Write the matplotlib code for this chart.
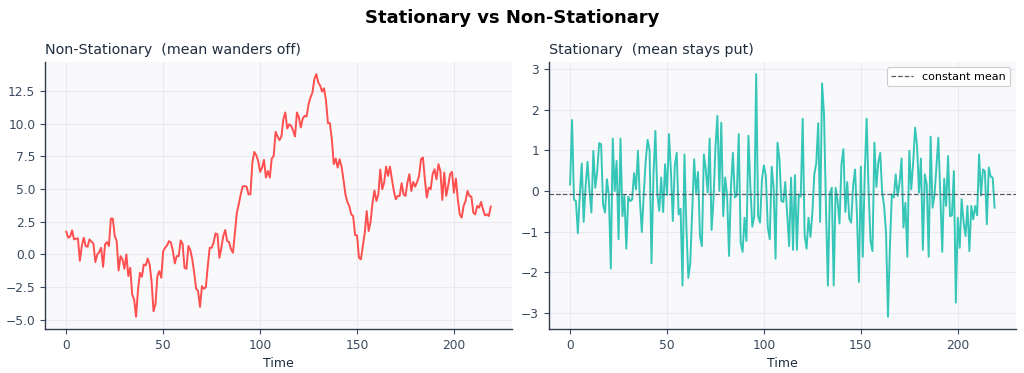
import numpy as np
import matplotlib
matplotlib.use("Agg")
import matplotlib.pyplot as plt

# ---- data ----
non_stationary = [
    1.74, 1.28, 1.36, 1.84, 1.15, 1.20, 1.23, -0.49, 0.64, 1.28,
    0.64, 0.59, 1.15, 0.97, 0.84, -0.59, 0.00, 0.18, 0.51, -0.95,
    0.77, 0.95, 0.64, 2.74, 2.74, 1.41, 1.02, -1.23, -0.13, -0.38,
    -1.10, 0.00, -1.66, -1.02, -3.07, -3.45, -4.78, -2.69, -1.41, -1.71,
    -0.77, -0.84, -0.31, -0.77, -2.05, -4.35, -3.84, -1.66, -1.28, -1.79,
    0.26, 0.51, 0.69, 1.02, 0.90, 0.26, -0.69, -0.13, -0.13, 1.07,
    0.82, -1.02, -1.10, 0.64, 0.33, -0.38, -1.41, -2.63, -2.81, -4.02,
    -2.43, -2.63, -2.51, -0.90, 0.51, 0.51, 0.90, 1.61, 1.53, -0.26,
    0.51, 1.41, 1.87, 1.02, 0.95, 0.38, 0.13, 1.66, 3.20, 3.84,
    4.60, 5.19, 5.24, 5.19, 4.60, 4.60, 7.03, 7.85, 7.60, 7.16,
    6.32, 6.65, 7.24, 5.88, 6.39, 5.88, 7.34, 7.54, 9.39, 9.03,
    8.75, 9.03, 10.36, 10.87, 9.64, 9.97, 9.85, 9.50, 9.03, 10.87,
    10.49, 9.72, 10.41, 10.61, 10.56, 11.51, 12.02, 12.40, 13.43, 13.81,
    13.17, 12.92, 12.46, 12.72, 11.76, 10.05, 10.05, 8.82, 6.91, 7.34,
    6.65, 7.29, 6.73, 5.75, 4.60, 4.02, 3.71, 3.07, 2.94, 1.48,
    1.46, -0.26, -0.38, 0.64, 1.66, 3.32, 1.79, 2.50, 3.96, 4.90,
    4.09, 4.60, 6.50, 4.99, 5.50, 6.73, 6.01, 6.73, 5.75, 4.86,
    4.22, 4.48, 4.48, 5.45, 4.60, 4.48, 5.50, 6.14, 4.86, 5.55,
    5.19, 5.55, 6.01, 7.29, 7.42, 5.75, 4.35, 5.12, 4.99, 6.14,
    6.52, 5.75, 6.91, 6.39, 4.17, 6.27, 4.48, 5.24, 6.14, 6.32,
    4.73, 5.81, 4.22, 3.07, 2.81, 3.71, 4.09, 4.86, 4.48, 4.42,
    3.20, 3.07, 3.71, 3.58, 4.02, 3.45, 2.99, 3.07, 2.94, 3.66,
]

stationary = [
    0.16, 1.75, -0.21, -0.25, -1.04, -0.10, 0.68, -0.76, 0.12, 0.72,
    0.00, -0.53, 0.99, 0.08, 0.49, 1.18, 1.15, -0.33, -0.53, 0.29,
    -0.12, -1.91, 1.29, 0.00, 0.74, -1.19, 1.29, -0.62, -0.12, -1.42,
    -0.14, -0.25, -0.21, 0.44, 0.04, 0.99, -0.21, -1.01, -0.08, 0.74,
    1.26, 1.00, -1.78, 0.37, 1.48, -0.08, -0.49, 0.33, -0.52, 0.66,
    -0.10, 1.40, 0.50, -0.74, 0.62, 0.94, -0.58, -0.44, -2.33, 0.90,
    -0.90, -2.14, -1.77, -0.50, 0.78, -0.05, 0.47, -1.11, -1.36, 0.90,
    0.53, -0.04, 1.29, -0.96, -0.20, 1.09, 1.85, 0.00, 1.68, -0.62,
    0.33, -0.10, -1.60, 0.10, 0.94, -0.16, -0.11, 1.40, -1.27, -1.50,
    -0.66, -1.23, 1.36, 0.10, -0.88, -0.62, 2.88, -0.62, -0.78, 0.29,
    0.63, 0.37, -0.90, -1.19, 0.60, 0.08, -1.67, 1.19, 0.78, -0.25,
    -0.27, 0.22, -0.58, -1.36, 0.33, -1.45, 0.39, -1.45, -0.08, -0.14,
    1.78, -1.09, -1.42, -0.66, -1.13, -0.53, 0.41, 0.68, 1.67, -0.76,
    2.65, 1.89, -0.40, -2.33, -0.08, 0.08, -2.33, 0.08, -0.25, -0.80,
    0.66, 1.03, -0.52, 0.22, -0.68, -0.78, 0.12, 0.53, -0.60, -2.24,
    0.60, -1.62, 0.40, 1.78, 0.00, -1.23, -1.48, 1.19, 0.10, 0.70,
    0.94, -0.04, -0.37, -1.03, -3.10, -1.36, -0.08, -0.16, 0.41, -0.12,
    0.21, 0.80, -0.90, -0.29, -1.62, 0.99, 0.04, 0.70, 1.56, 1.11,
    -0.04, 0.80, -1.45, 0.41, 0.16, -1.62, 1.34, -0.41, -0.10, 0.60,
    1.31, -0.10, -1.50, 0.30, -0.37, 0.86, -0.62, -0.60, 0.49, -2.75,
    -0.66, -1.40, -0.20, -0.76, -1.11, -0.37, -1.48, -0.37, -0.70, -0.37,
    -0.60, 0.90, -0.11, 0.53, 0.49, -0.82, 0.58, 0.35, 0.33, -0.41,
]

constant_mean = -0.08

suptitle = "Stationary vs Non-Stationary"
title_left = "Non-Stationary  (mean wanders off)"
title_right = "Stationary  (mean stays put)"
xlabel = "Time"
legend_label = "constant mean"

# ---- styling ----
RED = "#ff4f4f"
TEAL = "#36c6b8"
SPINE = "#2e3b4e"
TEXT = "#1f2d3d"
TICK = "#3a4a5e"
FACE = "#f9f9fc"
GRID = "#e9e9ef"

plt.rcParams["font.family"] = ["DejaVu Sans"]

fig, axes = plt.subplots(1, 2, figsize=(10.24, 3.73), dpi=100)
fig.subplots_adjust(left=0.044, right=0.992, bottom=0.118, top=0.834, wspace=0.079)

t1 = np.arange(len(non_stationary))
t2 = np.arange(len(stationary))

ax = axes[0]
ax.plot(t1, non_stationary, color=RED, lw=1.4)
ax.set_title(title_left, loc="left", fontsize=10.3, color=TEXT)

ax = axes[1]
ax.plot(t2, stationary, color=TEAL, lw=1.4)
ax.axhline(constant_mean, color="#555a60", ls="--", lw=0.9, label=legend_label)
ax.set_title(title_right, loc="left", fontsize=10.3, color=TEXT)
leg = ax.legend(loc="upper right", fontsize=8, frameon=True, fancybox=True,
                framealpha=1.0, edgecolor="#cccccc")
leg.get_frame().set_linewidth(0.8)

for ax in axes:
    ax.set_facecolor(FACE)
    ax.grid(True, color=GRID, lw=0.8)
    ax.set_axisbelow(True)
    for s in ("top", "right"):
        ax.spines[s].set_visible(False)
    for s in ("left", "bottom"):
        ax.spines[s].set_color(SPINE)
        ax.spines[s].set_linewidth(1.0)
    ax.tick_params(colors=TICK, labelsize=8.8, length=3.5)
    ax.set_xlabel(xlabel, fontsize=9, color=TEXT)

fig.suptitle(suptitle, fontsize=13, fontweight="bold", y=0.975)

fig.savefig("out.png", dpi=100, facecolor="white")
